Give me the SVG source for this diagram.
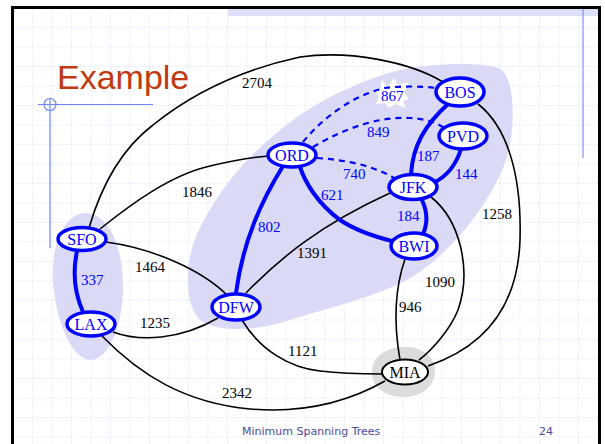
<svg xmlns="http://www.w3.org/2000/svg" width="605" height="444" viewBox="0 0 605 444">
<defs>
<pattern id="grid" x="12.5" y="7.5" width="19.5" height="19.5" patternUnits="userSpaceOnUse">
<path d="M0 0.5H19.5M0.5 0V19.5" stroke="#e6eafa" stroke-width="1" stroke-dasharray="1.5 1.5" fill="none"/>
</pattern>
<style>
.nd{fill:#fff;stroke:#0000ff;stroke-width:3.5}
.nt{font-family:"Liberation Serif",serif;font-size:16px;fill:#0000ff;text-anchor:middle}
.e{fill:none;stroke:#000;stroke-width:1.6}
.m{fill:none;stroke:#0000ff;stroke-width:4;stroke-linecap:round}
.d{fill:none;stroke:#0000ff;stroke-width:2.2;stroke-dasharray:6 5}
.l{font-family:"Liberation Serif",serif;font-size:15px;fill:#000}
.lb{font-family:"Liberation Serif",serif;font-size:15px;fill:#0000ff}
.sh{fill:#dadaf7}
</style>
</defs>
<rect width="605" height="444" fill="#fff"/>
<rect x="12.5" y="7.5" width="587" height="440" fill="url(#grid)"/>
<rect x="228" y="8" width="370" height="8" fill="#dde0f8"/>
<line x1="583" y1="8" x2="583" y2="158" stroke="#7b8ff0" stroke-width="1.2"/>
<rect x="12.5" y="7.5" width="587" height="440" fill="none" stroke="#000" stroke-width="3"/>
<text x="57" y="89" font-family="Liberation Sans, Arial, sans-serif" font-size="34" fill="#c0390f">Example</text>
<line x1="38" y1="104.5" x2="153" y2="104.5" stroke="#6f87f5" stroke-width="1.2"/>
<line x1="50" y1="98" x2="50" y2="248" stroke="#6f87f5" stroke-width="1.2"/>
<circle cx="50" cy="104.5" r="6" fill="none" stroke="#6f87f5" stroke-width="1.2"/>

<g id="regions">
<path class="sh" d="M85,213 C105,212 122,240 123,282 C124,322 110,359 91,360 C72,360 56,322 53,282 C51,242 65,214 85,213 Z"/>
<path class="sh" d="M400,70 C440,62 490,62 502,70 C515,82 516,130 506,160 C492,200 455,250 412,277 C375,298 320,310 290,320 C260,330 220,334 200,320 C184,305 184,262 198,232 C218,190 250,150 300,115 C330,95 370,77 400,70 Z"/>
<path fill="#dcdcdc" d="M404,347 C422,346 436,357 435,372 C434,388 420,397 404,397 C386,397 372,388 372,372 C372,357 386,347 404,347 Z"/>
<polygon fill="#fff" points="381,80 388,86 394,78 398,85 409,82 404,92 409,99 403,101 406,108 396,104 389,108 385,103 376,104 379,96 374,90 381,88"/>
</g>

<g id="connectors">
<path class="e" d="M89,228 C100,190 120,150 153,125 C190,95 240,70 300,57 C350,50 410,62 443,82"/>
<path class="e" d="M100,229 C130,205 170,175 210,166 C235,160 255,157 268,156"/>
<path class="e" d="M106,242 C150,248 200,268 228,296"/>
<path class="e" d="M113,332 C140,342 180,340 218,318"/>
<path class="e" d="M102,336 C140,375 185,403 250,409 C310,414 355,398 385,381"/>
<path class="e" d="M242,320 C260,350 290,368 320,371 C345,374 365,374 382,374"/>
<path class="e" d="M246,293 C280,258 320,225 390,193"/>
<path class="e" d="M431,197 C460,220 472,270 458,310 C450,330 432,350 419,360"/>
<path class="e" d="M405,259 C396,285 393,320 400,360"/>
<path class="e" d="M478,104 C505,125 522,170 520,240 C518,300 490,345 428,366"/>
<path class="m" d="M77,251 C73,270 74,292 83,312"/>
<path class="m" d="M283,166 C262,200 243,240 236,293"/>
<path class="m" d="M300,167 C305,182 317,203 340,220 C355,230 372,236 392,241"/>
<path class="m" d="M422,200 C428,213 428,223 423,234"/>
<path class="m" d="M448,104 C425,125 413,145 411,174"/>
<path class="m" d="M461,149 C456,165 446,177 433,183"/>
<path class="d" d="M303,142 C325,115 355,95 385,88 C400,86 420,86 436,88"/>
<path class="d" d="M313,147 C345,128 380,116 410,118 C425,119 436,122 444,128"/>
<path class="d" d="M317,158 C345,160 372,165 394,178"/>
</g>

<g id="labels">
<text class="l" x="242" y="88">2704</text>
<text class="l" x="182" y="197">1846</text>
<text class="l" x="135" y="272">1464</text>
<text class="l" x="140" y="328">1235</text>
<text class="l" x="222" y="398">2342</text>
<text class="l" x="288" y="356">1121</text>
<text class="l" x="297" y="258">1391</text>
<text class="l" x="425" y="287">1090</text>
<text class="l" x="399" y="312">946</text>
<text class="l" x="482" y="219">1258</text>
<text class="lb" x="81" y="285">337</text>
<text class="lb" x="258" y="232">802</text>
<text class="lb" x="321" y="200">621</text>
<text class="lb" x="397" y="221">184</text>
<text class="lb" x="417" y="161">187</text>
<text class="lb" x="455" y="179">144</text>
<text class="lb" x="381" y="101">867</text>
<text class="lb" x="367" y="137">849</text>
<text class="lb" x="343" y="179">740</text>
</g>

<g id="SFO"><ellipse class="nd" cx="82" cy="239" rx="24" ry="11.5"/><text class="nt" x="82" y="245">SFO</text></g>
<g id="LAX"><ellipse class="nd" cx="91" cy="324" rx="24" ry="12"/><text class="nt" x="91" y="330">LAX</text></g>
<g id="DFW"><ellipse class="nd" cx="236" cy="307" rx="24" ry="13"/><text class="nt" x="236" y="313">DFW</text></g>
<g id="ORD"><ellipse class="nd" cx="292" cy="155" rx="24" ry="12"/><text class="nt" x="292" y="161">ORD</text></g>
<g id="JFK"><ellipse class="nd" cx="413" cy="187" rx="24" ry="12.5"/><text class="nt" x="413" y="193">JFK</text></g>
<g id="BWI"><ellipse class="nd" cx="414" cy="246" rx="23" ry="13"/><text class="nt" x="414" y="252">BWI</text></g>
<g id="BOS"><ellipse class="nd" cx="460" cy="92" rx="24" ry="14"/><text class="nt" x="460" y="98">BOS</text></g>
<g id="PVD"><ellipse class="nd" cx="463" cy="136" rx="24" ry="13"/><text class="nt" x="463" y="142">PVD</text></g>
<g id="MIA"><ellipse cx="405" cy="372" rx="23" ry="12.5" fill="#fff" stroke="#000" stroke-width="2"/><text class="nt" x="405" y="378" style="fill:#000">MIA</text></g>

<text x="242" y="435" font-family="Tahoma, DejaVu Sans, sans-serif" font-size="11" fill="#4b4b9b">Minimum Spanning Trees</text>
<text x="539" y="435" font-family="Tahoma, DejaVu Sans, sans-serif" font-size="11" fill="#4b4b9b">24</text>
</svg>
